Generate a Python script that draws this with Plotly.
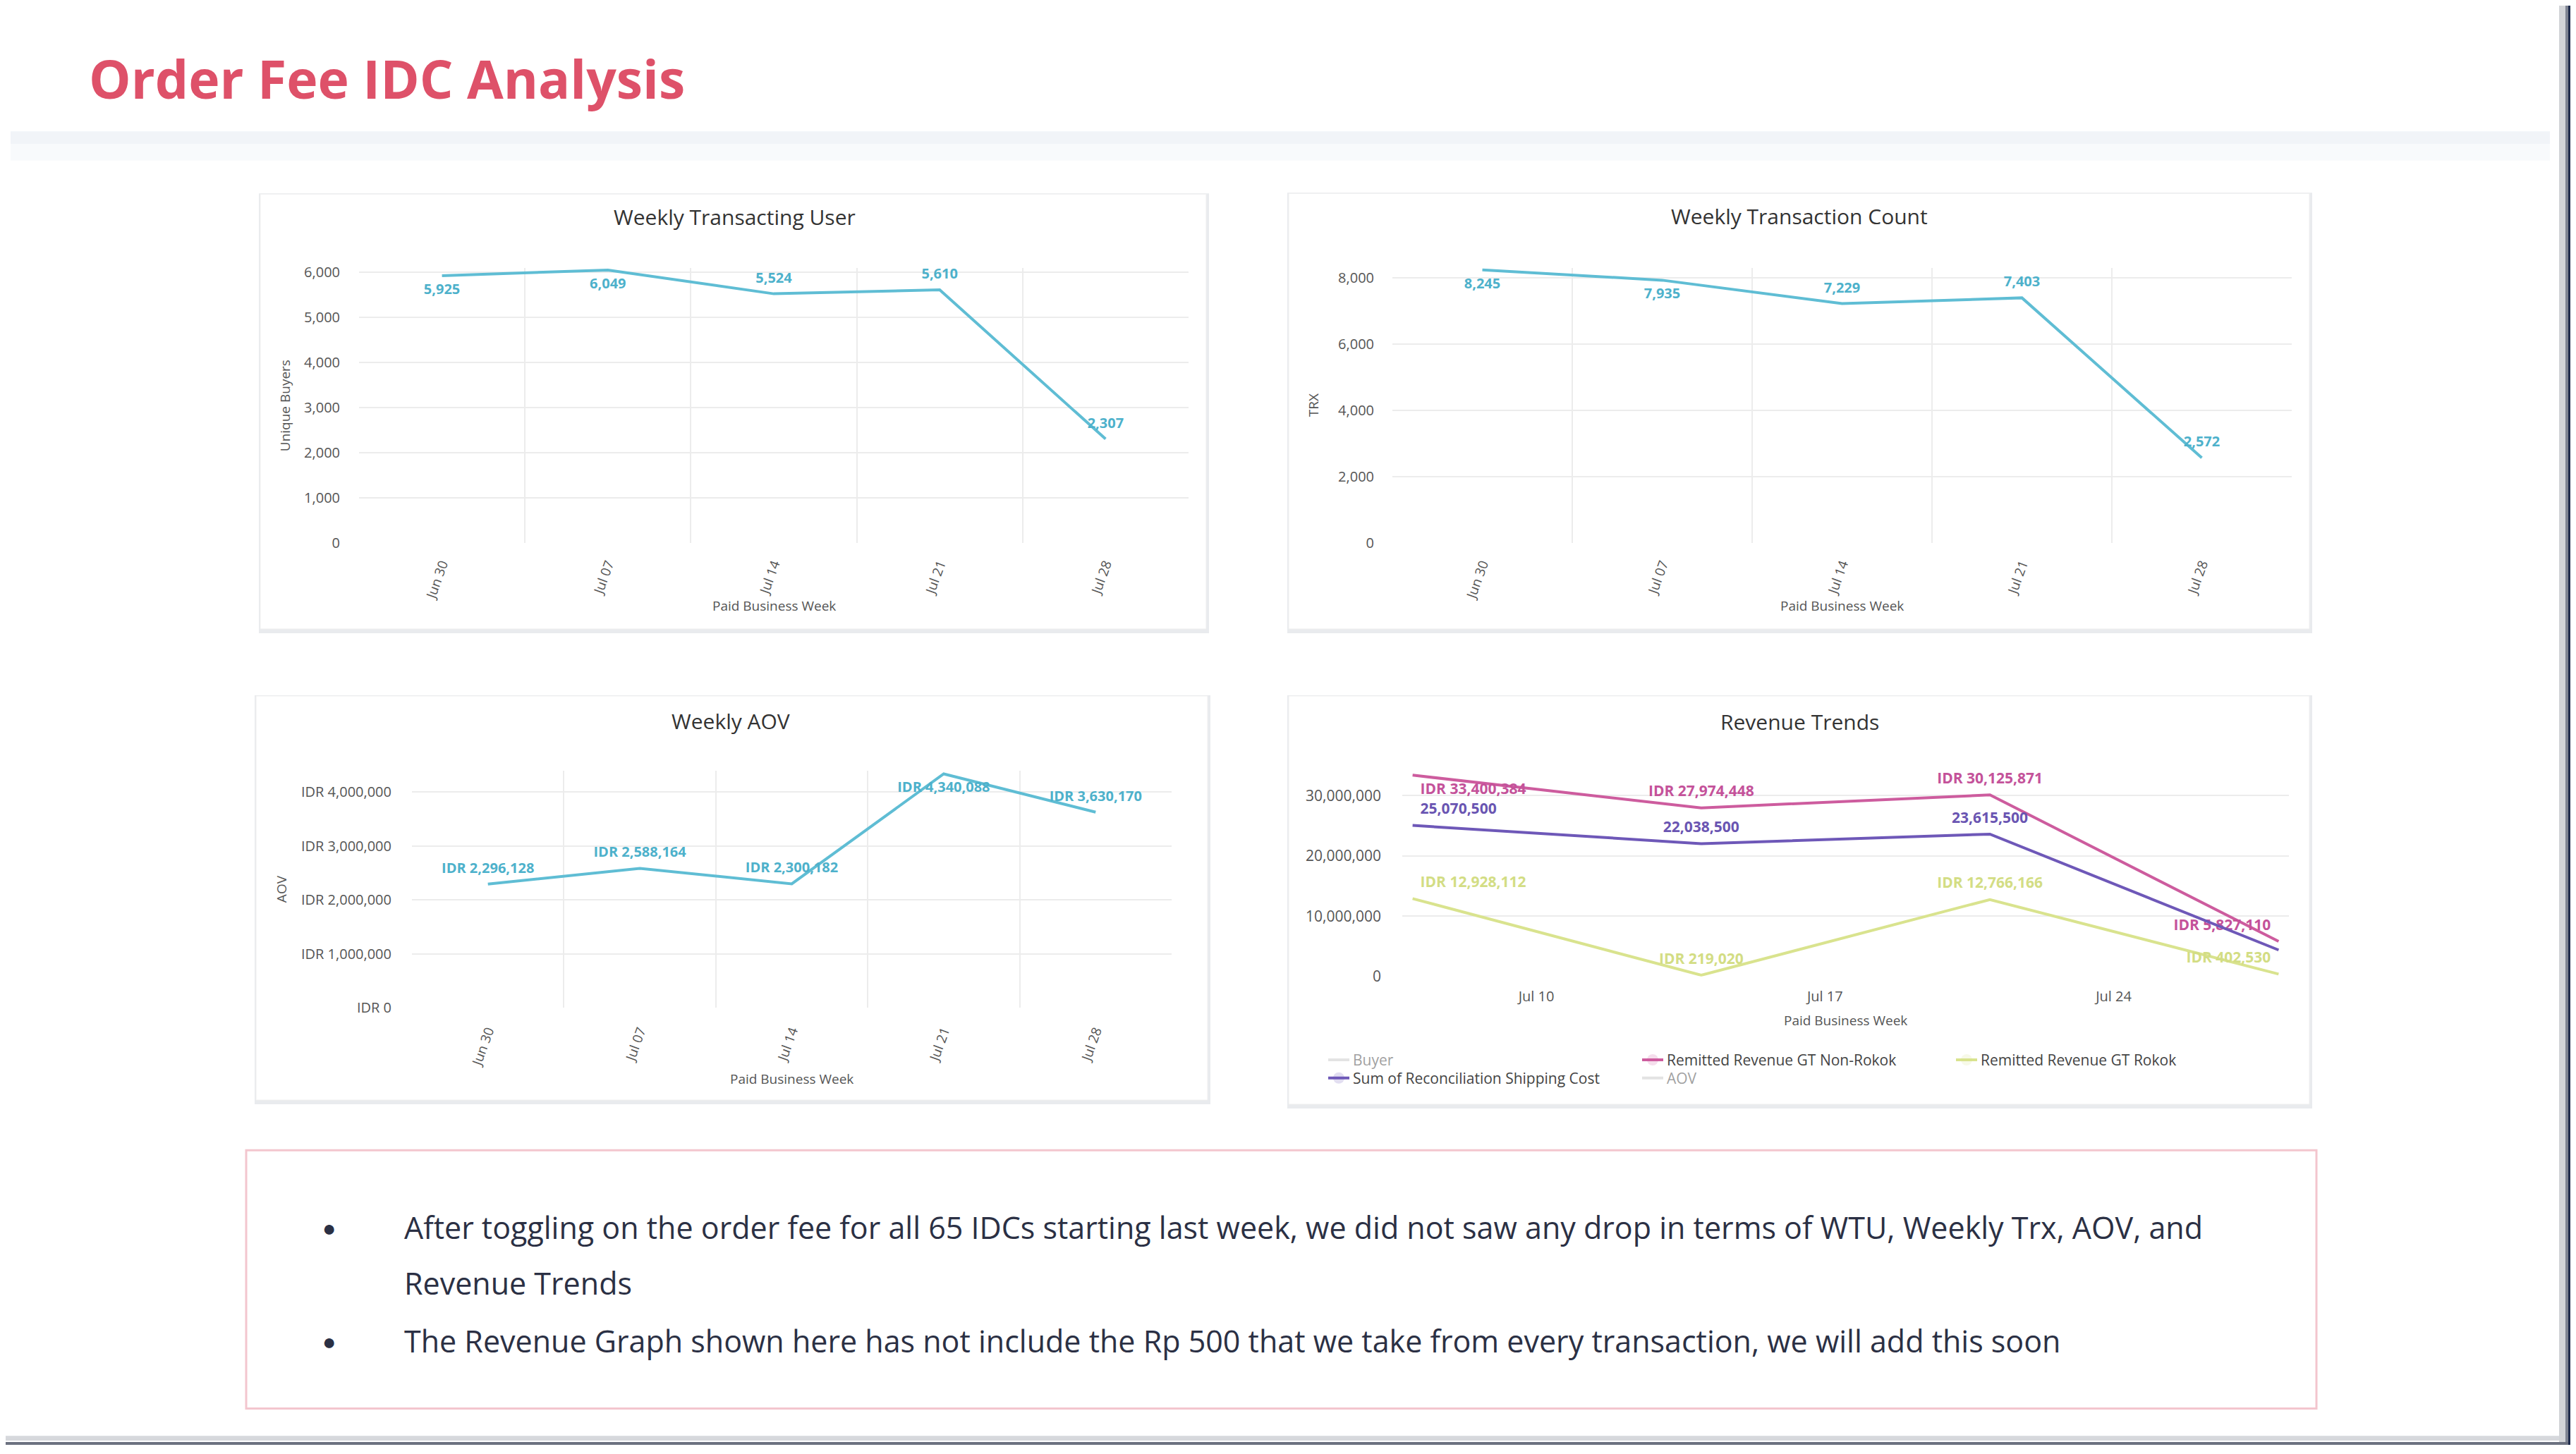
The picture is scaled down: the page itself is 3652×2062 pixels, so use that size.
import plotly.graph_objects as go

W, H = 3652, 2062
OX, OY = 8, 8  # page body margin of the html document
FW, FH = W - OX, H - OY

# ---------------- data ----------------
weeks = ["Jun 30", "Jul 07", "Jul 14", "Jul 21", "Jul 28"]
wtu = [5925, 6049, 5524, 5610, 2307]
trx = [8245, 7935, 7229, 7403, 2572]
aov = [2296128, 2588164, 2300182, 4340088, 3630170]

rev_dates = ["2024-07-07", "2024-07-14", "2024-07-21", "2024-07-28"]
rev_non_rokok = [33400384, 27974448, 30125871, 5827110]
rev_shipping = [25070500, 22038500, 23615500, 4400000]
rev_rokok = [12928112, 219020, 12766166, 402530]
rev_buyer = [6049, 5524, 5610, 2307]
rev_aov = [2588164, 2300182, 4340088, 3630170]

wtu_ticks = [0, 1000, 2000, 3000, 4000, 5000, 6000]
trx_ticks = [0, 2000, 4000, 6000, 8000]
aov_ticks = [0, 1000000, 2000000, 3000000, 4000000]
aov_tick_labels = ["IDR 0", "IDR 1,000,000", "IDR 2,000,000", "IDR 3,000,000", "IDR 4,000,000"]
rev_ticks = [0, 10000000, 20000000, 30000000]
rev_tick_labels = ["0", "10,000,000", "20,000,000", "30,000,000"]
rev_xticks = ["2024-07-10", "2024-07-17", "2024-07-24"]
rev_xtick_labels = ["Jul 10", "Jul 17", "Jul 24"]

title_text = "Order Fee IDC Analysis"
chart_titles = ["Weekly Transacting User", "Weekly Transaction Count", "Weekly AOV", "Revenue Trends"]
bullet_1a = "After toggling on the order fee for all 65 IDCs starting last week, we did not saw any drop in terms of WTU, Weekly Trx, AOV, and"
bullet_1b = "Revenue Trends"
bullet_2 = "The Revenue Graph shown here has not include the Rp 500 that we take from every transaction, we will add this soon"

# ---------------- style ----------------
FONT = "Open Sans"
TEAL = "#5FBDD4"
TEAL_TXT = "#4DB1CB"
PINK = "#CD5C9E"
PURPLE = "#6E58B8"
GREEN = "#D9E38E"
GRID = "#ECECEC"
TICK = "#555555"
LW = 4
HIDDEN_MARKER = dict(size=16, opacity=0)


def fx(x):
    return (x - OX) / FW


def fy(y):
    return 1 - (y - OY) / FH


def fmt(v):
    return f"{v:,}"


def idr(v):
    return f"IDR {v:,}"


fig = go.Figure()

LBL = dict(color=TEAL_TXT, size=20, family=FONT, weight="bold")

# Chart 1: WTU
fig.add_trace(go.Scatter(
    x=weeks, y=wtu, mode="lines+markers+text", text=[fmt(v) for v in wtu],
    textposition=["bottom center", "bottom center", "top center", "top center", "top center"],
    textfont=LBL, line=dict(color=TEAL, width=LW), marker=HIDDEN_MARKER, showlegend=False,
    xaxis="x", yaxis="y", cliponaxis=False))

# Chart 2: TRX
fig.add_trace(go.Scatter(
    x=weeks, y=trx, mode="lines+markers+text", text=[fmt(v) for v in trx],
    textposition=["bottom center", "bottom center", "top center", "top center", "top center"],
    textfont=LBL, line=dict(color=TEAL, width=LW), marker=HIDDEN_MARKER, showlegend=False,
    xaxis="x2", yaxis="y2", cliponaxis=False))

# Chart 3: AOV
fig.add_trace(go.Scatter(
    x=weeks, y=aov, mode="lines+markers+text", text=[idr(v) for v in aov],
    textposition=["top center", "top center", "top center", "bottom center", "top center"],
    textfont=LBL, line=dict(color=TEAL, width=LW), marker=HIDDEN_MARKER, showlegend=False,
    xaxis="x3", yaxis="y3", cliponaxis=False))

# Chart 4: Revenue trends
fig.add_trace(go.Scatter(
    x=rev_dates, y=rev_buyer, name="Buyer", mode="lines", visible="legendonly",
    line=dict(color="#C8C8C8", width=LW), xaxis="x4", yaxis="y4", legend="legend"))
fig.add_trace(go.Scatter(
    x=rev_dates, y=rev_non_rokok, name="Remitted Revenue GT Non-Rokok", mode="lines+markers+text",
    text=[idr(v) for v in rev_non_rokok],
    textposition=["bottom right", "top center", "top center", "top left"],
    textfont=dict(color="#C4529A", size=21, family=FONT, weight="bold"),
    line=dict(color=PINK, width=LW), marker=HIDDEN_MARKER,
    xaxis="x4", yaxis="y4", legend="legend", cliponaxis=False))
fig.add_trace(go.Scatter(
    x=rev_dates, y=rev_rokok, name="Remitted Revenue GT Rokok", mode="lines+markers+text",
    text=[idr(v) for v in rev_rokok],
    textposition=["top right", "top center", "top center", "top left"],
    textfont=dict(color="#D3DD84", size=21, family=FONT, weight="bold"),
    line=dict(color=GREEN, width=LW), marker=HIDDEN_MARKER,
    xaxis="x4", yaxis="y4", legend="legend", cliponaxis=False))
fig.add_trace(go.Scatter(
    x=rev_dates, y=rev_shipping, name="Sum of Reconciliation Shipping Cost", mode="lines+markers+text",
    text=[fmt(v) for v in rev_shipping[:3]] + [""],
    textposition=["top right", "top center", "top center", "top left"],
    textfont=dict(color="#6A55B2", size=21, family=FONT, weight="bold"),
    line=dict(color=PURPLE, width=LW), marker=HIDDEN_MARKER,
    xaxis="x4", yaxis="y4", legend="legend2", cliponaxis=False))
fig.add_trace(go.Scatter(
    x=rev_dates, y=rev_aov, name="AOV", mode="lines", visible="legendonly",
    line=dict(color="#C8C8C8", width=LW), xaxis="x4", yaxis="y4", legend="legend2"))


def cat_x(x0, x1, anchor, standoff):
    return dict(domain=[fx(x0), fx(x1)], anchor=anchor, type="category",
                categoryorder="array", categoryarray=weeks, range=[-0.5, 4.5],
                tickson="boundaries", showgrid=True, gridcolor=GRID, gridwidth=1.5,
                tickangle=-70, tickfont=dict(size=19, color=TICK, family=FONT),
                showline=False, zeroline=False, ticks="", ticklabelstandoff=standoff,
                fixedrange=True)


def num_y(y_top, y_bot, anchor, rng, tv, tt, standoff, size=20):
    return dict(domain=[fy(y_bot), fy(y_top)], anchor=anchor, range=rng, tickvals=tv, ticktext=tt,
                showgrid=True, gridcolor=GRID, gridwidth=1.5, zeroline=False,
                showline=False, ticks="", tickfont=dict(size=size, color=TICK, family=FONT),
                ticklabelstandoff=standoff, fixedrange=True)


x1 = cat_x(509, 1685, "y", 14)
x2 = cat_x(1974, 3249, "y2", 14)
x3 = cat_x(584, 1661, "y3", 17)

y1 = num_y(375.5, 770, "x", [0, 6100], wtu_ticks, [fmt(v) for v in wtu_ticks], 26)
y2 = num_y(376, 770, "x2", [0, 8300], trx_ticks, [fmt(v) for v in trx_ticks], 25)
y3 = num_y(1096, 1436, "x3", [0, 4400000], aov_ticks, aov_tick_labels, 28)
y4 = num_y(1093, 1391, "x4", [0, 34500000], rev_ticks, rev_tick_labels, 29, size=21)

x4 = dict(domain=[fx(1988), fx(3245)], anchor="y4", type="date",
          range=["2024-07-06 18:00", "2024-07-28 06:00"],
          tickvals=rev_xticks, ticktext=rev_xtick_labels, showgrid=False,
          zeroline=False, showline=False, ticks="",
          tickfont=dict(size=20, color=TICK, family=FONT), ticklabelstandoff=14,
          fixedrange=True)


def rect(x0, y0, x1, y1, fill, line=None):
    return dict(type="rect", xref="paper", yref="paper", x0=fx(x0), x1=fx(x1),
                y0=fy(y1), y1=fy(y0), fillcolor=fill,
                line=line if line else dict(width=0), layer="below")


shapes = []
# header band shadow
shapes.append(rect(15, 180, 3615, 198, "#F1F4F8"))
shapes.append(rect(15, 198, 3615, 222, "#F8FAFC"))

cards = [(369, 270, 1710, 893), (1827, 269, 3274, 893), (363, 989, 1712, 1568), (1827, 989, 3274, 1574)]
for (a, b, c, d) in cards:
    shapes.append(rect(a - 2, b - 1, c + 4, d + 6, "#E9EBEE"))
    shapes.append(rect(a, b, c, d, "#FFFFFF", dict(color="#EFEFEF", width=1)))

# text box
shapes.append(rect(349, 1640, 3284, 2010, "#FFFFFF", dict(color="#F3C6CE", width=3)))

# page frame (right and bottom edges)
shapes.append(rect(3628, 0, 3637, H, "#D2D4D8"))
shapes.append(rect(3637, 0, 3641, H, "#7E8492"))
shapes.append(rect(3641, 0, W, H, "#1F2B4C"))
shapes.append(rect(0, 2049, 3628, 2056, "#D6D8DC"))
shapes.append(rect(0, 2058, 3641, H, "#6C7180"))

ann = []


def note(text, x, y, size, color, xanchor="center", weight="normal", angle=0):
    ann.append(dict(text=text, x=fx(x), y=fy(y), xref="paper", yref="paper",
                    xanchor=xanchor, yanchor="middle", showarrow=False, textangle=angle,
                    font=dict(size=size, color=color, family=FONT, weight=weight)))


note(title_text, 124, 104, 75, "#DE5169", xanchor="left", weight="bold")

title_pos = [(1041, 303), (2551, 302), (1036, 1025), (2551, 1026)]
for t, (cx, cy) in zip(chart_titles, title_pos):
    note(t, cx, cy, 30, "#333333")

xt_pos = [(1097, 860), (2611, 860), (1122, 1538), (2616, 1454)]
for (cx, cy) in xt_pos:
    note("Paid Business Week", cx, cy, 19, "#555555")

yt = [("Unique Buyers", 404, 573), ("TRX", 1862, 573), ("AOV", 399, 1266)]
for t, cx, cy in yt:
    note(t, cx, cy, 19, "#555555", angle=-90)

BODY = "#2B3044"
for by in (1750, 1913):
    note("●", 466, by, 32, BODY)
for t, ty in ((bullet_1a, 1750), (bullet_1b, 1830), (bullet_2, 1913)):
    note(t, 571, ty, 43, BODY, xanchor="left")

legend_common = dict(orientation="h", xanchor="left", yanchor="top", x=fx(1878),
                     font=dict(size=21, color="#444444", family=FONT), entrywidth=400,
                     entrywidthmode="pixels", bgcolor="rgba(0,0,0,0)", itemwidth=30,
                     itemclick=False, itemdoubleclick=False)

fig.update_layout(
    width=FW, height=FH, margin=dict(l=0, r=0, t=0, b=0),
    paper_bgcolor="#FFFFFF", plot_bgcolor="rgba(0,0,0,0)",
    font=dict(family=FONT),
    xaxis=x1, yaxis=y1, xaxis2=x2, yaxis2=y2, xaxis3=x3, yaxis3=y3, xaxis4=x4, yaxis4=y4,
    legend=dict(legend_common, y=fy(1490)),
    legend2=dict(legend_common, y=fy(1516)),
    shapes=shapes, annotations=ann,
)

fig.write_html("out.html")
